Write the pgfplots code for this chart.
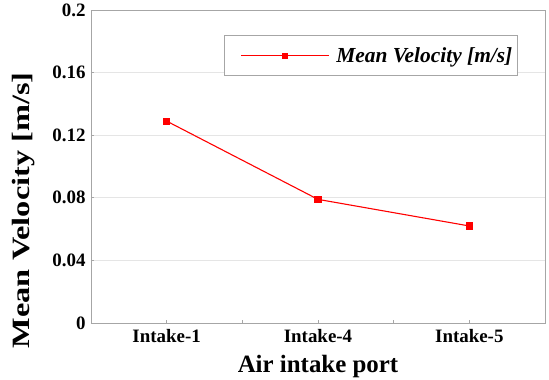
\documentclass[border=0pt]{standalone}
\usepackage{pgfplots}
\pgfplotsset{compat=1.18}
\usepackage{fontspec}
\setmainfont{Liberation Serif}
\begin{document}
\begin{tikzpicture}
\useasboundingbox (-91bp,-57bp) rectangle (458bp,323bp);
\begin{axis}[
  at={(0,0)}, anchor=south west,
  scale only axis, width=454bp, height=313bp,
  xmin=0.5, xmax=3.5, ymin=0, ymax=0.2,
  xtick={1,2,3}, xticklabels={Intake-1,Intake-4,Intake-5},
  minor xtick={1.5,2.5},
  ytick={0,0.04,0.08,0.12,0.16,0.2},
  yticklabels={0,0.04,0.08,0.12,0.16,0.2},
  tick align=inside, major tick length=3bp, minor tick length=3bp,
  tick style={gray!70, line width=0.6bp},
  xtick pos=bottom, ytick pos=left,
  ymajorgrids, major grid style={gray!20, line width=0.6bp},
  axis line style={gray!70, line width=0.8bp},
  /pgf/number format/assume math mode=true,
  ticklabel style={font=\fontsize{19}{22}\selectfont\bfseries},
  xticklabel style={yshift=-3bp},
  yticklabel style={xshift=-2bp},
  xlabel={Air intake port},
  ylabel={\scalebox{1.3}[1]{Mean Velocity [m/s]}},
  xlabel style={font=\fontsize{25}{28}\selectfont\bfseries, yshift=-6bp},
  ylabel style={font=\fontsize{25}{28}\selectfont\bfseries, at={(ticklabel cs:0.36)}, yshift=11bp},
  legend style={at={(0.94,0.92)}, anchor=north east, draw=gray!70, line width=0.8bp,
    font=\fontsize{21.5}{24}\selectfont\bfseries\itshape, inner xsep=3bp, inner ysep=10bp},
  legend image code/.code={
    \path[draw=none, fill=none] (-14bp,0bp) -- (93bp,0bp);
    \draw[red, line width=1.1bp] (0bp,0bp) -- (88bp,0bp);
    \fill[red, draw=none] (41bp,-3bp) rectangle (47bp,3bp);
  },
]
\addplot[red, line width=1.1bp, mark=square*, mark size=3bp, mark options={solid, fill=red}]
  coordinates {(1,0.129) (2,0.079) (3,0.062)};
\addlegendentry{Mean Velocity [m/s]}
\end{axis}
\end{tikzpicture}
\end{document}
